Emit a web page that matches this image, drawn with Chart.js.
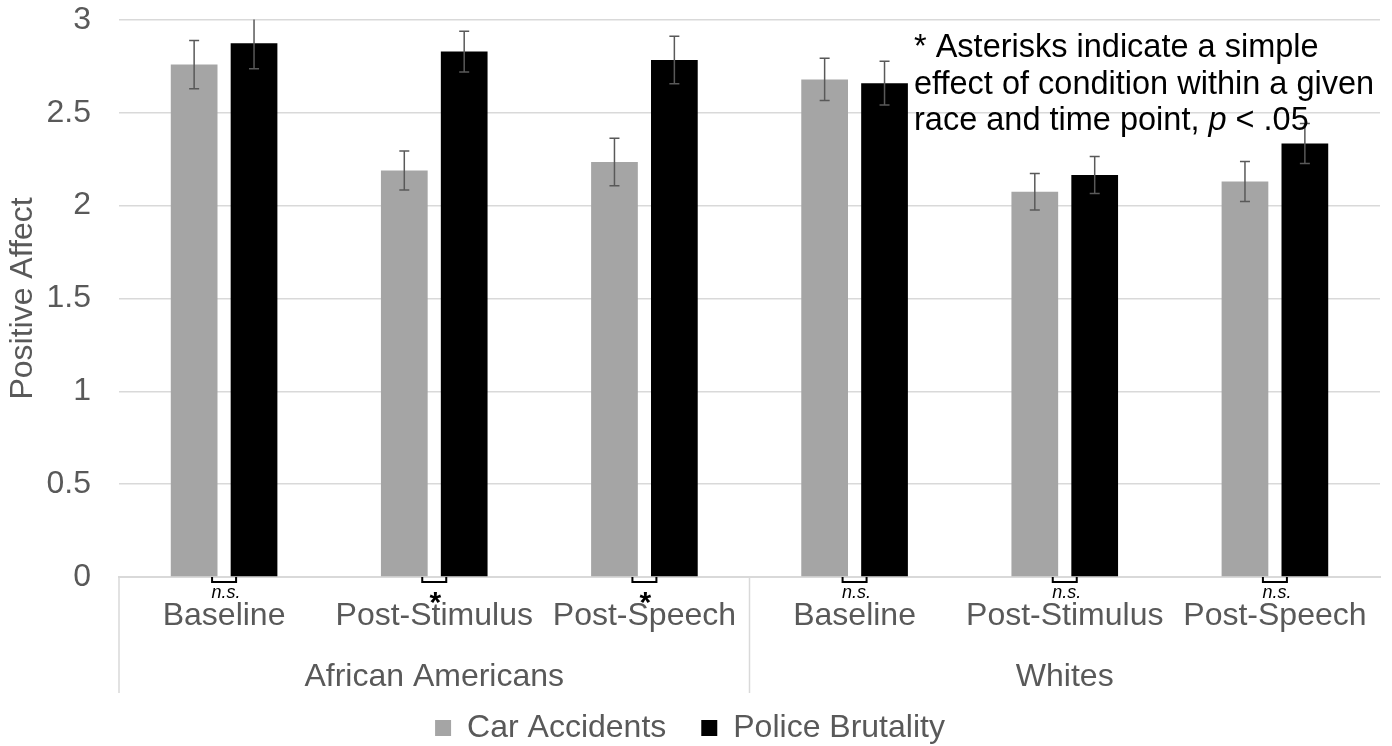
<!DOCTYPE html>
<html>
<head>
<meta charset="utf-8">
<script src="https://cdn.jsdelivr.net/npm/chart.js@4.4.1/dist/chart.umd.min.js"></script>
<style>
  html, body { margin: 0; padding: 0; background: #ffffff; overflow: hidden; }
  #wrap { position: relative; width: 1392px; height: 746px; }
</style>
</head>
<body>
<div id="wrap"><canvas id="chart" width="1392" height="746"></canvas></div>
<script>
// Positive affect by race, time point and video condition (means ± SE)
const groups = ['African Americans', 'Whites'];
const groupSizes = [3, 3];
const timePoints = ['Baseline', 'Post-Stimulus', 'Post-Speech', 'Baseline', 'Post-Stimulus', 'Post-Speech'];
const seriesNames = ['Car Accidents', 'Police Brutality'];
const carAccidents = [2.76, 2.19, 2.235, 2.68, 2.075, 2.13];
const policeBrutality = [2.875, 2.83, 2.785, 2.66, 2.165, 2.335];
const carSE = [0.13, 0.105, 0.128, 0.114, 0.098, 0.108];
const policeSE = [0.137, 0.11, 0.128, 0.118, 0.1, 0.108];
const sigMarks = ['n.s.', '*', '*', 'n.s.', 'n.s.', 'n.s.'];
const yTicks = [0, 0.5, 1, 1.5, 2, 2.5, 3];
const yTickLabels = ['0', '0.5', '1', '1.5', '2', '2.5', '3'];
const yTitle = 'Positive Affect';
// Footnote: each line is a list of [text, italic] runs
const noteLines = [
  [['* Asterisks indicate a simple', false]],
  [['effect of condition within a given', false]],
  [['race and time point, ', false], ['p', true], [' < .05', false]]
];

const FONT = '"Liberation Sans", Arial, Helvetica, sans-serif';
const TEXT_GREY = '#595959';
const GRID_GREY = '#d9d9d9';

const annotations = {
  id: 'annotations',
  afterDatasetsDraw(chart) {
    const { ctx, chartArea, scales: { y } } = chart;
    ctx.save();
    ctx.beginPath();
    ctx.rect(chartArea.left, chartArea.top - 0.5, chartArea.right - chartArea.left, chartArea.bottom - chartArea.top + 0.5);
    ctx.clip();
    ctx.strokeStyle = '#595959';
    ctx.lineWidth = 1.5;
    [carSE, policeSE].forEach((se, di) => {
      const values = chart.data.datasets[di].data;
      chart.getDatasetMeta(di).data.forEach((bar, i) => {
        const yHi = y.getPixelForValue(values[i] + se[i]);
        const yLo = y.getPixelForValue(values[i] - se[i]);
        const cx = bar.x;
        ctx.beginPath();
        ctx.moveTo(cx, yHi); ctx.lineTo(cx, yLo);
        ctx.moveTo(cx - 5, yHi); ctx.lineTo(cx + 5, yHi);
        ctx.moveTo(cx - 5, yLo); ctx.lineTo(cx + 5, yLo);
        ctx.stroke();
      });
    });
    ctx.restore();
  },
  afterDraw(chart) {
    const { ctx, chartArea, scales: { x } } = chart;
    const catW = (x.right - x.left) / timePoints.length;
    const axisY = chartArea.bottom;
    ctx.save();

    // significance brackets under each pair of bars
    ctx.strokeStyle = '#000000';
    ctx.lineWidth = 2;
    timePoints.forEach((_, i) => {
      const cx = x.getPixelForValue(i);
      ctx.beginPath();
      ctx.moveTo(cx - 12, axisY);
      ctx.lineTo(cx - 12, axisY + 5);
      ctx.lineTo(cx + 12, axisY + 5);
      ctx.lineTo(cx + 12, axisY);
      ctx.stroke();
    });
    ctx.fillStyle = '#000000';
    ctx.textAlign = 'center';
    ctx.textBaseline = 'alphabetic';
    sigMarks.forEach((m, i) => {
      const cx = x.getPixelForValue(i);
      if (m === '*') {
        ctx.font = 'bold 30px ' + FONT;
        ctx.fillText(m, cx + 1, axisY + 35);
      } else {
        ctx.font = 'italic 18px ' + FONT;
        ctx.fillText(m, cx + 2, axisY + 21);
      }
    });

    // group separators and group labels
    ctx.strokeStyle = GRID_GREY;
    ctx.lineWidth = 1.5;
    ctx.fillStyle = TEXT_GREY;
    ctx.font = '32px ' + FONT;
    let start = 0;
    groups.forEach((g, gi) => {
      const left = x.getPixelForValue(start) - catW / 2;
      const right = x.getPixelForValue(start + groupSizes[gi] - 1) + catW / 2;
      ctx.beginPath();
      ctx.moveTo(left, axisY);
      ctx.lineTo(left, axisY + 116);
      ctx.stroke();
      ctx.fillText(g, (left + right) / 2, axisY + 109);
      start += groupSizes[gi];
    });

    // footnote
    ctx.fillStyle = '#000000';
    ctx.textAlign = 'left';
    const noteX = 914;
    const baselines = [57, 93.5, 130];
    noteLines.forEach((runs, li) => {
      let cx = noteX;
      runs.forEach(([txt, italic]) => {
        ctx.font = (italic ? 'italic ' : '') + '32.5px ' + FONT;
        ctx.fillText(txt, cx, baselines[li]);
        cx += ctx.measureText(txt).width;
      });
    });
    ctx.restore();
  }
};

new Chart(document.getElementById('chart'), {
  type: 'bar',
  data: {
    labels: timePoints,
    datasets: [
      { label: seriesNames[0], data: carAccidents, backgroundColor: '#a5a5a5', borderWidth: 0 },
      { label: seriesNames[1], data: policeBrutality, backgroundColor: '#000000', borderWidth: 0 }
    ]
  },
  options: {
    responsive: false,
    animation: false,
    devicePixelRatio: 1,
    datasets: { bar: { categoryPercentage: 0.57, barPercentage: 0.78 } },
    layout: { padding: { left: 0, right: 12, top: 20, bottom: -8 } },
    plugins: {
      tooltip: { enabled: false },
      legend: {
        position: 'bottom',
        labels: {
          color: TEXT_GREY,
          font: { family: FONT, size: 32 },
          boxWidth: 16,
          boxHeight: 16,
          padding: 35
        }
      }
    },
    scales: {
      x: {
        grid: { display: false, drawTicks: false },
        border: { display: true, color: GRID_GREY, width: 2 },
        ticks: {
          color: TEXT_GREY,
          font: { family: FONT, size: 32 },
          padding: 20,
          autoSkip: false,
          maxRotation: 0,
          minRotation: 0
        },
        afterFit(scale) { scale.height = 100; }
      },
      y: {
        min: 0,
        max: 3,
        afterBuildTicks(scale) { scale.ticks = yTicks.map(v => ({ value: v })); },
        grid: { color: GRID_GREY, lineWidth: 1.5, drawTicks: false },
        border: { display: false },
        ticks: {
          color: TEXT_GREY,
          font: { family: FONT, size: 32 },
          padding: 28,
          callback: (v) => yTickLabels[yTicks.indexOf(v)]
        },
        title: {
          display: true,
          text: yTitle,
          color: TEXT_GREY,
          font: { family: FONT, size: 32 },
          padding: { top: 4, bottom: 0 }
        },
        afterFit(scale) {
          scale.width = 119;
          scale.paddingTop = 0;
          scale.paddingBottom = 0;
        }
      }
    }
  },
  plugins: [annotations]
});
</script>
</body>
</html>
